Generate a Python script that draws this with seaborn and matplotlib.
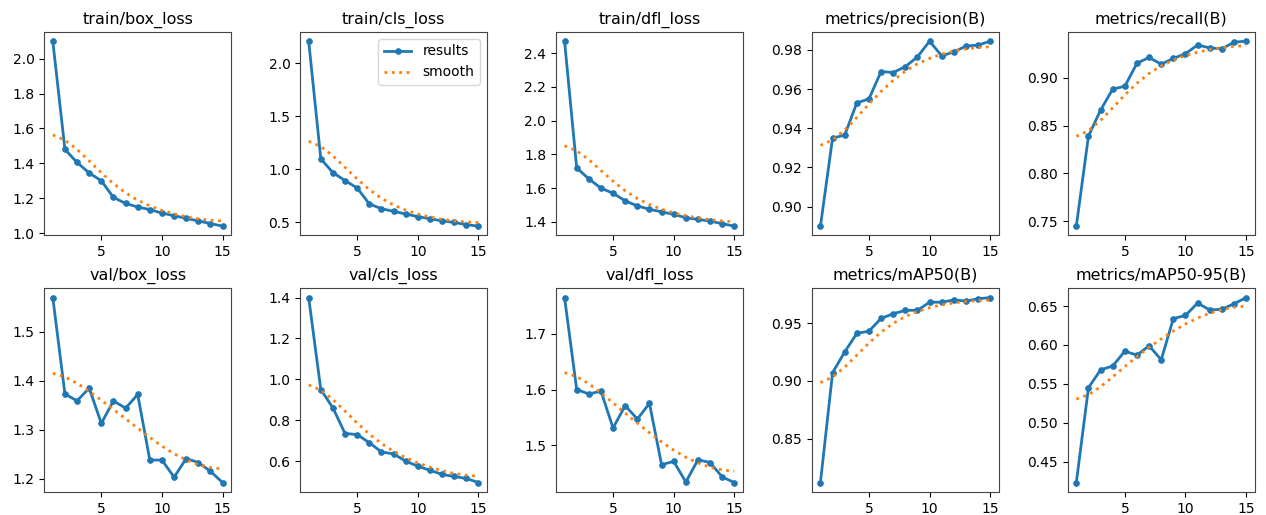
import numpy as np
import pandas as pd
import matplotlib
matplotlib.use("Agg")
import matplotlib.pyplot as plt
from matplotlib.ticker import MultipleLocator
import seaborn as sns

EPOCHS = list(range(1, 16))

TITLES = ["train/box_loss", "train/cls_loss", "train/dfl_loss", "metrics/precision(B)", "metrics/recall(B)",
          "val/box_loss", "val/cls_loss", "val/dfl_loss", "metrics/mAP50(B)", "metrics/mAP50-95(B)"]

train_box = [2.10, 1.48, 1.405, 1.345, 1.30, 1.205, 1.17, 1.15, 1.135, 1.115, 1.10, 1.085, 1.07, 1.055, 1.04]
train_cls = [2.21, 1.10, 0.97, 0.895, 0.825, 0.675, 0.63, 0.605, 0.58, 0.555, 0.535, 0.515, 0.50, 0.48, 0.465]
train_dfl = [2.47, 1.72, 1.655, 1.60, 1.57, 1.525, 1.495, 1.475, 1.46, 1.445, 1.425, 1.415, 1.405, 1.39, 1.375]
precision = [0.890, 0.935, 0.9365, 0.953, 0.955, 0.969, 0.9685, 0.9715, 0.9765, 0.9845, 0.977, 0.979, 0.982, 0.9825, 0.9845]
recall = [0.745, 0.839, 0.866, 0.888, 0.891, 0.915, 0.921, 0.914, 0.920, 0.925, 0.934, 0.931, 0.930, 0.937, 0.938]
val_box = [1.570, 1.373, 1.359, 1.385, 1.313, 1.359, 1.344, 1.372, 1.238, 1.238, 1.203, 1.241, 1.233, 1.215, 1.192]
val_cls = [1.40, 0.95, 0.86, 0.735, 0.73, 0.69, 0.645, 0.635, 0.60, 0.575, 0.555, 0.535, 0.525, 0.515, 0.495]
val_dfl = [1.765, 1.60, 1.592, 1.597, 1.531, 1.571, 1.547, 1.575, 1.465, 1.471, 1.434, 1.474, 1.469, 1.443, 1.433]
map50 = [0.812, 0.907, 0.925, 0.941, 0.943, 0.954, 0.958, 0.961, 0.961, 0.968, 0.968, 0.970, 0.969, 0.971, 0.972]
map50_95 = [0.423, 0.545, 0.568, 0.573, 0.592, 0.587, 0.599, 0.581, 0.634, 0.638, 0.654, 0.645, 0.646, 0.653, 0.661]

SERIES = [train_box, train_cls, train_dfl, precision, recall,
          val_box, val_cls, val_dfl, map50, map50_95]

# y tick spacing for each panel
Y_STEPS = [0.2, 0.5, 0.2, 0.02, 0.05, 0.1, 0.2, 0.1, 0.05, 0.05]


def smooth(y, sigma=3.0):
    # same as gaussian_filter1d(y, sigma) with mode='reflect'
    y = np.asarray(y, dtype=float)
    radius = int(4.0 * sigma + 0.5)
    k = np.arange(-radius, radius + 1)
    w = np.exp(-0.5 * (k / sigma) ** 2)
    w /= w.sum()
    padded = np.pad(y, radius, mode="symmetric")
    return np.convolve(padded, w, mode="valid")


def main():
    plt.rcParams["font.family"] = ["DejaVu Sans"]
    fig, axes = plt.subplots(2, 5, figsize=(12.66, 5.15), dpi=100)
    axes = axes.ravel()

    for i, (ax, title, y) in enumerate(zip(axes, TITLES, SERIES)):
        df = pd.DataFrame({"epoch": EPOCHS, "results": y, "smooth": smooth(y)})
        sns.lineplot(data=df, x="epoch", y="results", ax=ax, marker=".", markersize=8,
                     linewidth=2, color="#1f77b4", markeredgecolor="#1f77b4", label="results")
        sns.lineplot(data=df, x="epoch", y="smooth", ax=ax, linestyle=":", linewidth=2,
                     color="#ff7f0e", label="smooth")
        ax.set_title(title, fontsize=11.5)
        ax.set_xlabel("")
        ax.set_ylabel("")
        ax.set_xticks([5, 10, 15])
        ax.yaxis.set_major_locator(MultipleLocator(Y_STEPS[i]))
        ax.tick_params(labelsize=10)
        for s in ax.spines.values():
            s.set_edgecolor("#444444")
        if i == 1:
            ax.legend(fontsize=10)
        else:
            ax.get_legend().remove()

    plt.subplots_adjust(left=0.035, right=0.991, top=0.938, bottom=0.045, wspace=0.37, hspace=0.26)
    plt.savefig("out.png", dpi=100)


if __name__ == '__main__':
    main()
